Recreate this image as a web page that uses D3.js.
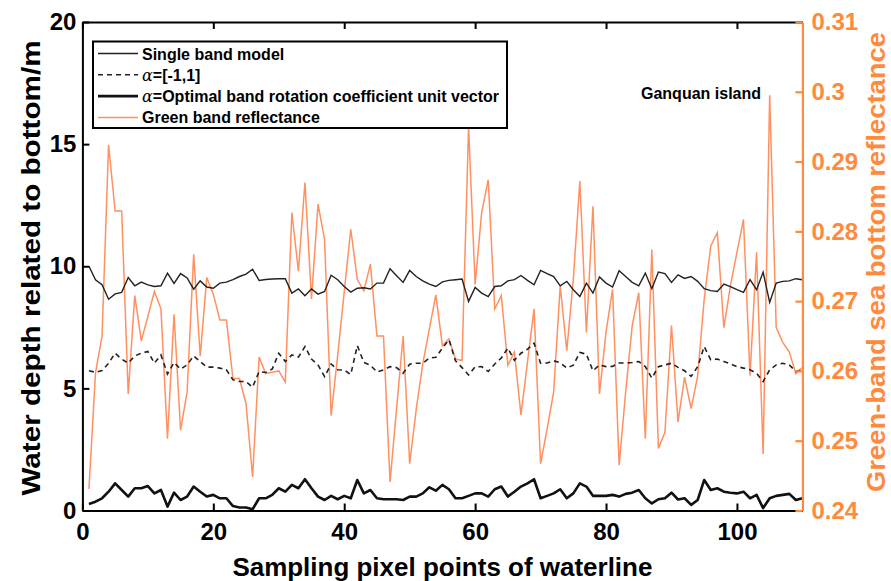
<!DOCTYPE html>
<html>
<head>
<meta charset="utf-8">
<script src="https://cdn.jsdelivr.net/npm/d3@7"></script>
<style>
  body { margin: 0; background: #fff; }
  svg { display: block; font-family: "Liberation Sans", Arial, sans-serif; font-weight: bold; }
</style>
</head>
<body>
<div id="chart"></div>
<script>
// sample index along the waterline
const pointIdx = d3.range(1, 111);

// Single band model (m)
const singleBand = [
  10.0, 9.45, 9.24, 8.65, 8.87, 8.93, 9.54, 9.2, 9.35, 9.24,
  9.17, 9.2, 9.72, 9.3, 9.7, 9.52, 9.06, 9.4, 9.15, 9.1,
  9.31, 9.35, 9.45, 9.58, 9.68, 9.88, 9.42, 9.46, 9.48, 9.49,
  9.49, 8.9, 9.07, 8.79, 9.07, 8.86, 8.97, 9.63, 9.45, 9.17,
  8.94, 9.1, 9.12, 9.07, 9.31, 9.31, 9.9, 9.61, 9.34, 9.83,
  9.58, 9.4, 9.27, 9.17, 9.36, 9.42, 9.45, 9.48, 8.56, 9.13,
  8.9, 8.76, 9.17, 9.2, 9.4, 9.45, 9.62, 9.42, 9.24, 9.83,
  9.7, 9.58, 9.2, 9.38, 9.04, 8.76, 9.31, 8.9, 9.56, 9.31,
  9.15, 9.82, 9.58, 9.34, 9.2, 9.72, 9.08, 9.76, 9.7, 9.34,
  9.65, 9.5, 9.58, 9.38, 9.08, 9.0, 8.97, 9.27, 9.17, 9.04,
  8.93, 9.45, 9.04, 9.76, 8.52, 9.31, 9.38, 9.4, 9.49, 9.45
];

// alpha = [-1,1] (m)
const alphaPM1 = [
  5.72, 5.66, 5.73, 6.03, 6.44, 6.2, 6.03, 6.33, 6.44, 6.51,
  6.03, 6.37, 5.59, 6.06, 5.79, 5.96, 6.33, 6.1, 5.87, 5.87,
  5.83, 5.76, 5.35, 5.28, 5.28, 5.05, 5.69, 5.65, 5.79, 6.44,
  6.1, 6.37, 6.28, 6.71, 6.2, 5.96, 5.48, 6.0, 5.76, 5.75,
  5.57, 6.75, 6.06, 5.95, 5.67, 5.76, 5.89, 5.85, 5.62, 5.99,
  6.03, 6.03, 6.24, 6.27, 6.65, 6.99, 6.13, 5.85, 5.55, 5.88,
  5.89, 5.69, 6.0, 6.24, 6.65, 6.15, 6.44, 6.6, 6.85, 6.03,
  6.04, 6.13, 6.05, 5.83, 5.95, 6.47, 6.4, 5.72, 5.96, 5.89,
  5.9, 6.04, 6.04, 6.06, 6.1, 5.89, 5.42, 5.89, 5.96, 6.03,
  5.86, 5.72, 5.49, 5.89, 6.71, 6.17, 6.2, 6.1, 6.0, 5.89,
  5.83, 5.76, 5.62, 5.28, 5.76, 5.96, 6.03, 5.96, 5.69, 5.76
];

// alpha = optimal band rotation coefficient unit vector (m)
const optimalAlpha = [
  0.27, 0.36, 0.5, 0.77, 1.11, 0.84, 0.57, 0.91, 0.91, 1.0,
  0.7, 0.84, 0.16, 0.73, 0.43, 0.57, 0.98, 0.77, 0.57, 0.64,
  0.5, 0.5, 0.18, 0.12, 0.12, 0.05, 0.5, 0.5, 0.64, 0.91,
  0.77, 1.05, 0.91, 1.28, 0.91, 0.57, 0.43, 0.6, 0.46, 0.6,
  0.5, 1.25, 0.7, 0.84, 0.5, 0.46, 0.46, 0.46, 0.43, 0.57,
  0.57, 0.7, 0.95, 0.81, 1.05, 0.87, 0.5, 0.5, 0.6, 0.7,
  0.7, 0.57, 0.87, 0.98, 0.57, 0.77, 0.98, 1.11, 1.28, 0.5,
  0.6, 0.7, 0.87, 0.5, 0.7, 1.11, 0.98, 0.6, 0.6, 0.6,
  0.64, 0.57, 0.68, 0.73, 0.84, 0.5, 0.29, 0.46, 0.5, 0.73,
  0.45, 0.5, 0.23, 0.43, 1.25, 0.84, 0.91, 0.77, 0.73, 0.7,
  0.77, 0.5, 0.64, 0.1, 0.5, 0.6, 0.64, 0.68, 0.43, 0.5
];

// green band reflectance (right axis)
const greenRefl = [
  0.2431, 0.2597, 0.265, 0.2924, 0.2829, 0.2829, 0.2567, 0.2708, 0.2643, 0.2678,
  0.2714, 0.2689, 0.2503, 0.2681, 0.2515, 0.257, 0.2767, 0.2621, 0.2734, 0.271,
  0.2673, 0.2673, 0.2589, 0.2589, 0.2553, 0.2448, 0.262, 0.2596, 0.2598, 0.26,
  0.2584, 0.2827, 0.2743, 0.287, 0.2703, 0.2839, 0.2788, 0.2536, 0.2622, 0.2713,
  0.2803, 0.2731, 0.2715, 0.2753, 0.265, 0.265, 0.2441, 0.2546, 0.265, 0.2467,
  0.2545, 0.261, 0.266, 0.2709, 0.2636, 0.2646, 0.2617, 0.2615, 0.295, 0.2724,
  0.2827, 0.2874, 0.2689, 0.2708, 0.2608, 0.2627, 0.2537, 0.2613, 0.2689, 0.2467,
  0.2517, 0.257, 0.2722, 0.2629, 0.2731, 0.2872, 0.2655, 0.2836, 0.2567, 0.2656,
  0.2717, 0.2465, 0.257, 0.2665, 0.2712, 0.2503, 0.2774, 0.2489, 0.2512, 0.2665,
  0.2527, 0.2591, 0.2546, 0.2593, 0.2703, 0.2779, 0.2798, 0.2662, 0.2722, 0.277,
  0.2817, 0.2593, 0.277, 0.2481, 0.2995, 0.2662, 0.2641, 0.2627, 0.2596, 0.2605
];

const xTicks = [0, 20, 40, 60, 80, 100];
const yLeftTicks = [0, 5, 10, 15, 20];
const yRightTicks = [0.24, 0.25, 0.26, 0.27, 0.28, 0.29, 0.3, 0.31];

const legendLabels = [
  { alpha: false, text: 'Single band model' },
  { alpha: true, text: '=[-1,1]' },
  { alpha: true, text: '=Optimal band rotation coefficient unit vector' },
  { alpha: false, text: 'Green band reflectance' }
];

const ORANGE = '#ff8a3d';
const ORANGE_LINE = '#ff9060';

const svgWidth = 891, svgHeight = 581;
const margin = { top: 22, right: 88.6, bottom: 70.5, left: 82.4 };
const width = svgWidth - margin.left - margin.right;
const height = svgHeight - margin.top - margin.bottom;

const x = d3.scaleLinear().domain([0, 110]).range([0, width]);
const y = d3.scaleLinear().domain([0, 20]).range([height, 0]);
const y2 = d3.scaleLinear().domain([0.24, 0.31]).range([height, 0]);

const svg = d3.select('#chart').append('svg')
  .attr('width', svgWidth)
  .attr('height', svgHeight);

const g = svg.append('g')
  .attr('transform', 'translate(' + margin.left + ',' + margin.top + ')');

// lines
const depthLine = data => d3.line()
  .x((d, i) => x(pointIdx[i]))
  .y(d => y(d))(data);

g.append('path')
  .attr('d', d3.line().x((d, i) => x(pointIdx[i])).y(d => y2(d))(greenRefl))
  .attr('fill', 'none')
  .attr('stroke', ORANGE_LINE)
  .attr('stroke-width', 1.5);

g.append('path')
  .attr('d', depthLine(singleBand))
  .attr('fill', 'none')
  .attr('stroke', '#222')
  .attr('stroke-width', 1.4);

g.append('path')
  .attr('d', depthLine(alphaPM1))
  .attr('fill', 'none')
  .attr('stroke', '#222')
  .attr('stroke-width', 1.6)
  .attr('stroke-dasharray', '5,4');

g.append('path')
  .attr('d', depthLine(optimalAlpha))
  .attr('fill', 'none')
  .attr('stroke', '#111')
  .attr('stroke-width', 2.6)
  .attr('stroke-linejoin', 'round');

// axes, ticks pointing inward
const tickFont = g => g.selectAll('text')
  .style('font-size', '24px')
  .style('font-weight', 'bold')
  .style('font-family', '"Liberation Sans", Arial, sans-serif');

g.append('g')
  .attr('transform', 'translate(0,' + height + ')')
  .call(d3.axisBottom(x).tickValues(xTicks).tickSizeInner(-7).tickSizeOuter(0).tickPadding(12))
  .call(tickFont)
  .call(a => a.selectAll('line, path').attr('stroke', '#000').attr('stroke-width', 2))
  .call(a => a.selectAll('text').attr('fill', '#000'));

g.append('g')
  .call(d3.axisTop(x).tickValues(xTicks).tickSizeInner(-7).tickSizeOuter(0).tickFormat(''))
  .call(a => a.selectAll('line, path').attr('stroke', '#000').attr('stroke-width', 2));

g.append('g')
  .call(d3.axisLeft(y).tickValues(yLeftTicks).tickSizeInner(-7).tickSizeOuter(0).tickPadding(6))
  .call(tickFont)
  .call(a => a.selectAll('line, path').attr('stroke', '#000').attr('stroke-width', 2))
  .call(a => a.selectAll('text').attr('fill', '#000'));

g.append('g')
  .attr('transform', 'translate(' + width + ',0)')
  .call(d3.axisRight(y2).tickValues(yRightTicks).tickSizeInner(-7).tickSizeOuter(0).tickPadding(9)
    .tickFormat(d3.format('~g')))
  .call(tickFont)
  .call(a => a.selectAll('line, path').attr('stroke', ORANGE).attr('stroke-width', 2.2))
  .call(a => a.selectAll('text').attr('fill', ORANGE));

// axis titles
svg.append('text')
  .attr('x', margin.left + width / 2)
  .attr('y', 576)
  .attr('text-anchor', 'middle')
  .attr('textLength', 420)
  .attr('lengthAdjust', 'spacingAndGlyphs')
  .style('font-size', '26px')
  .text('Sampling pixel points of waterline');

svg.append('text')
  .attr('transform', 'translate(40,268) rotate(-90)')
  .attr('text-anchor', 'middle')
  .attr('textLength', 455)
  .attr('lengthAdjust', 'spacingAndGlyphs')
  .style('font-size', '26px')
  .text('Water depth related to bottom/m');

svg.append('text')
  .attr('transform', 'translate(885,262) rotate(-90)')
  .attr('text-anchor', 'middle')
  .attr('textLength', 460)
  .attr('lengthAdjust', 'spacingAndGlyphs')
  .attr('fill', ORANGE)
  .style('font-size', '25px')
  .text('Green-band sea bottom reflectance');

// annotation
svg.append('text')
  .attr('x', 641)
  .attr('y', 99)
  .style('font-size', '16px')
  .text('Ganquan island');

// legend
const legend = svg.append('g').attr('transform', 'translate(93,41.5)');
legend.append('rect')
  .attr('width', 414)
  .attr('height', 86.5)
  .attr('fill', '#fff')
  .attr('stroke', '#000')
  .attr('stroke-width', 2);

const legendStyles = [
  { stroke: '#222', width: 1.4, dash: null },
  { stroke: '#222', width: 1.6, dash: '5,4' },
  { stroke: '#111', width: 2.6, dash: null },
  { stroke: ORANGE_LINE, width: 1.5, dash: null }
];

legendLabels.forEach((lab, i) => {
  const ry = 12 + i * 21.3;
  const st = legendStyles[i];
  legend.append('line')
    .attr('x1', 5).attr('x2', 45)
    .attr('y1', ry).attr('y2', ry)
    .attr('stroke', st.stroke)
    .attr('stroke-width', st.width)
    .attr('stroke-dasharray', st.dash);
  const t = legend.append('text')
    .attr('x', 49)
    .attr('y', ry + 6)
    .style('font-size', '16px');
  if (lab.alpha) {
    t.append('tspan')
      .style('font-family', '"DejaVu Serif", serif')
      .style('font-weight', 'normal')
      .style('font-style', 'italic')
      .text('α');
  }
  t.append('tspan').text(lab.text);
});
</script>
</body>
</html>
